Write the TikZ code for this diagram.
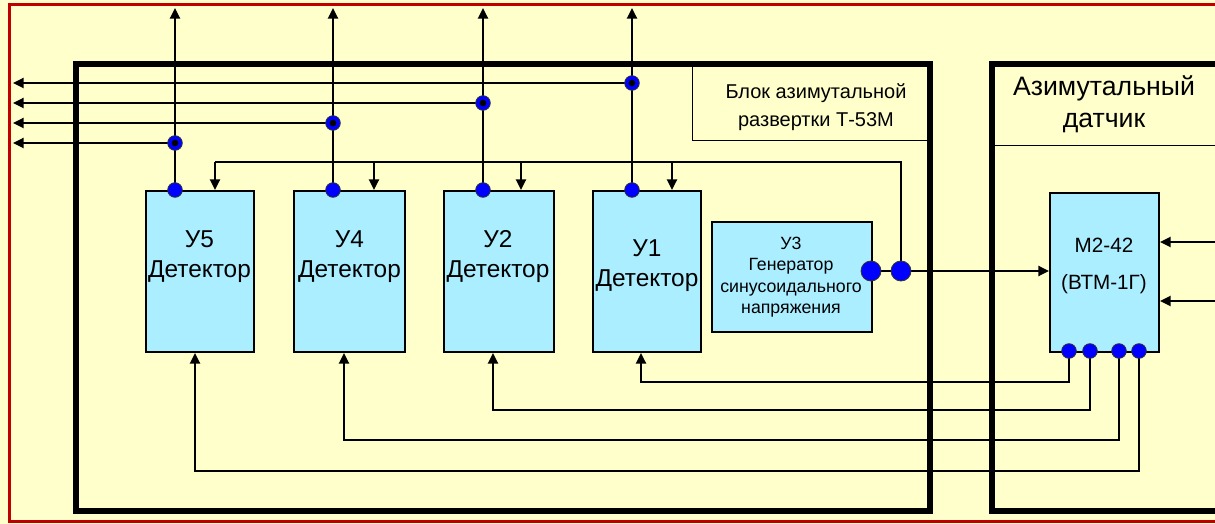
\documentclass[tikz,border=0pt]{standalone}
\usepackage{fontspec}
\setmainfont{Liberation Sans}
\usetikzlibrary{arrows.meta}
\definecolor{bgyellow}{HTML}{FFFFCC}
\definecolor{boxcyan}{HTML}{AAEEFF}
\definecolor{framered}{HTML}{C00000}
\definecolor{dotblue}{HTML}{0000FF}
\pgfdeclarelayer{bg}
\pgfsetlayers{bg,main}
\begin{document}
\begin{tikzpicture}[x=0.75pt,y=-0.75pt,
  conn/.style={line width=1.7pt, draw=black},
  arr/.style={conn, -{Triangle[length=8pt,width=7.5pt]}},
  blk/.style={draw=black, line width=1.5pt, fill=boxcyan, anchor=north west, inner sep=0pt},
  pin/.style={circle, fill=dotblue, draw=black!80, line width=0.6pt, inner sep=0pt, minimum size=11pt},
  bigpin/.style={circle, fill=dotblue, draw=black!80, line width=0.6pt, inner sep=0pt, minimum size=15pt},
  ring/.style={circle, fill=dotblue, draw=black!80, line width=0.6pt, inner sep=0pt, minimum size=11pt,
    path picture={\fill[black] (path picture bounding box.center) circle (2.5pt);}},
  detlabel/.style={align=center, font=\fontsize{18.3pt}{22.5pt}\selectfont},
  thickframe/.style={draw=black, line width=4.5pt},
  thinline/.style={draw=black, line width=0.75pt}
]
\useasboundingbox (0,0) rectangle (1215,524);

% blocks
\node[blk, minimum width=81pt, minimum height=120.75pt] (b5) at (145,190) {};
\node[blk, minimum width=83.25pt, minimum height=120.75pt] (b4) at (293,190) {};
\node[blk, minimum width=82.5pt, minimum height=120.75pt] (b2) at (443,190) {};
\node[blk, minimum width=81pt, minimum height=120.75pt] (b1) at (592,190) {};
\node[blk, minimum width=120pt, minimum height=82.5pt] (b3) at (711,221) {};
\node[blk, minimum width=81.75pt, minimum height=119.25pt] (bm) at (1049,192) {};

% block texts
\node[detlabel] (t5txt) at (199.5,257) {У5\\Детектор};
\node[detlabel] (t4txt) at (349.5,257) {У4\\Детектор};
\node[detlabel] (t2txt) at (498,257) {У2\\Детектор};
\node[detlabel] (t1txt) at (647,266) {У1\\Детектор};
\node[align=center, font=\fontsize{13.3pt}{16pt}\selectfont] (t3txt) at (791,277) {У3\\Генератор\\синусоидального\\напряжения};
\node[align=center, font=\fontsize{15.5pt}{27.75pt}\selectfont] (tmtxt) at (1104,266) {М2-42\\(ВТМ-1Г)};

% frame titles
\node[align=center, font=\fontsize{15pt}{21pt}\selectfont] (blocktitle) at (816,107) {Блок азимутальной\\развертки Т-53М};
\node[align=center, font=\fontsize{20pt}{24pt}\selectfont] (sensortitle) at (1104,104) {Азимутальный\\датчик};

% pins on detectors
\node[pin] (d5) at (175,190) {};
\node[pin] (d4) at (333,190) {};
\node[pin] (d2) at (483,190) {};
\node[pin] (d1) at (632,190) {};
% junctions
\node[ring] (j5) at (175,143) {};
\node[ring] (j4) at (333,123) {};
\node[ring] (j2) at (483,103) {};
\node[ring] (j1) at (632,83) {};
% generator outputs
\node[bigpin] (o1) at (871,271) {};
\node[bigpin] (o2) at (901,271) {};
% sensor pins
\node[pin] (m1) at (1069,351) {};
\node[pin] (m2) at (1090,351) {};
\node[pin] (m3) at (1119,351) {};
\node[pin] (m4) at (1139,351) {};

% free ends
\coordinate (t5) at (175,8);
\coordinate (t4) at (333,8);
\coordinate (t2) at (483,8);
\coordinate (t1) at (632,8);
\coordinate (l5) at (13,143);
\coordinate (l4) at (13,123);
\coordinate (l2) at (13,103);
\coordinate (l1) at (13,83);
\coordinate (fr) at (901,162);
\coordinate (f5) at (215,162);
\coordinate (f4) at (374,162);
\coordinate (f2) at (521,162);
\coordinate (f1) at (672,162);
\coordinate (r1) at (641,382);
\coordinate (r2) at (493,410);
\coordinate (r3) at (344,440);
\coordinate (r4) at (195,471);
\coordinate (e1) at (1216,242);
\coordinate (e2) at (1216,301);

\begin{pgfonlayer}{bg}
  \clip (0,0) rectangle (1215,524);
  \fill[bgyellow] (0,0) rectangle (1215,524);
  % red outer frame
  \draw[framered, line width=2.25pt] (9.5,5) rectangle (1240,521);
  % thick frames
  \draw[thickframe] (76,64) rectangle (930,511);
  \draw[thickframe] (992,64) rectangle (1240,511);
  % title boxes
  \draw[thinline] (692,64) -- (692,141) -- (930,141);
  \draw[thinline] (992,146) -- (1215,146);

  % outputs upward
  \draw[arr] (d5.center) -- (t5);
  \draw[arr] (d4.center) -- (t4);
  \draw[arr] (d2.center) -- (t2);
  \draw[arr] (d1.center) -- (t1);
  % outputs leftward
  \draw[arr] (j5.center) -- (l5);
  \draw[arr] (j4.center) -- (l4);
  \draw[arr] (j2.center) -- (l2);
  \draw[arr] (j1.center) -- (l1);

  % generator feed
  \draw[conn] (o1.center) -- (o2.center);
  \draw[conn] (o2.center) -- (fr) -- (f5);
  \draw[arr] (f5) -- (f5 |- b5.north);
  \draw[arr] (f4) -- (f4 |- b4.north);
  \draw[arr] (f2) -- (f2 |- b2.north);
  \draw[arr] (f1) -- (f1 |- b1.north);
  \draw[arr] (o2.center) -- (o2 -| bm.west);

  % returns from sensor
  \draw[arr] (m1.center) |- (r1) -- (r1 |- b1.south);
  \draw[arr] (m2.center) |- (r2) -- (r2 |- b2.south);
  \draw[arr] (m3.center) |- (r3) -- (r3 |- b4.south);
  \draw[arr] (m4.center) |- (r4) -- (r4 |- b5.south);

  % inputs to sensor
  \draw[arr] (e1) -- (e1 -| bm.east);
  \draw[arr] (e2) -- (e2 -| bm.east);
\end{pgfonlayer}
\end{tikzpicture}
\end{document}
